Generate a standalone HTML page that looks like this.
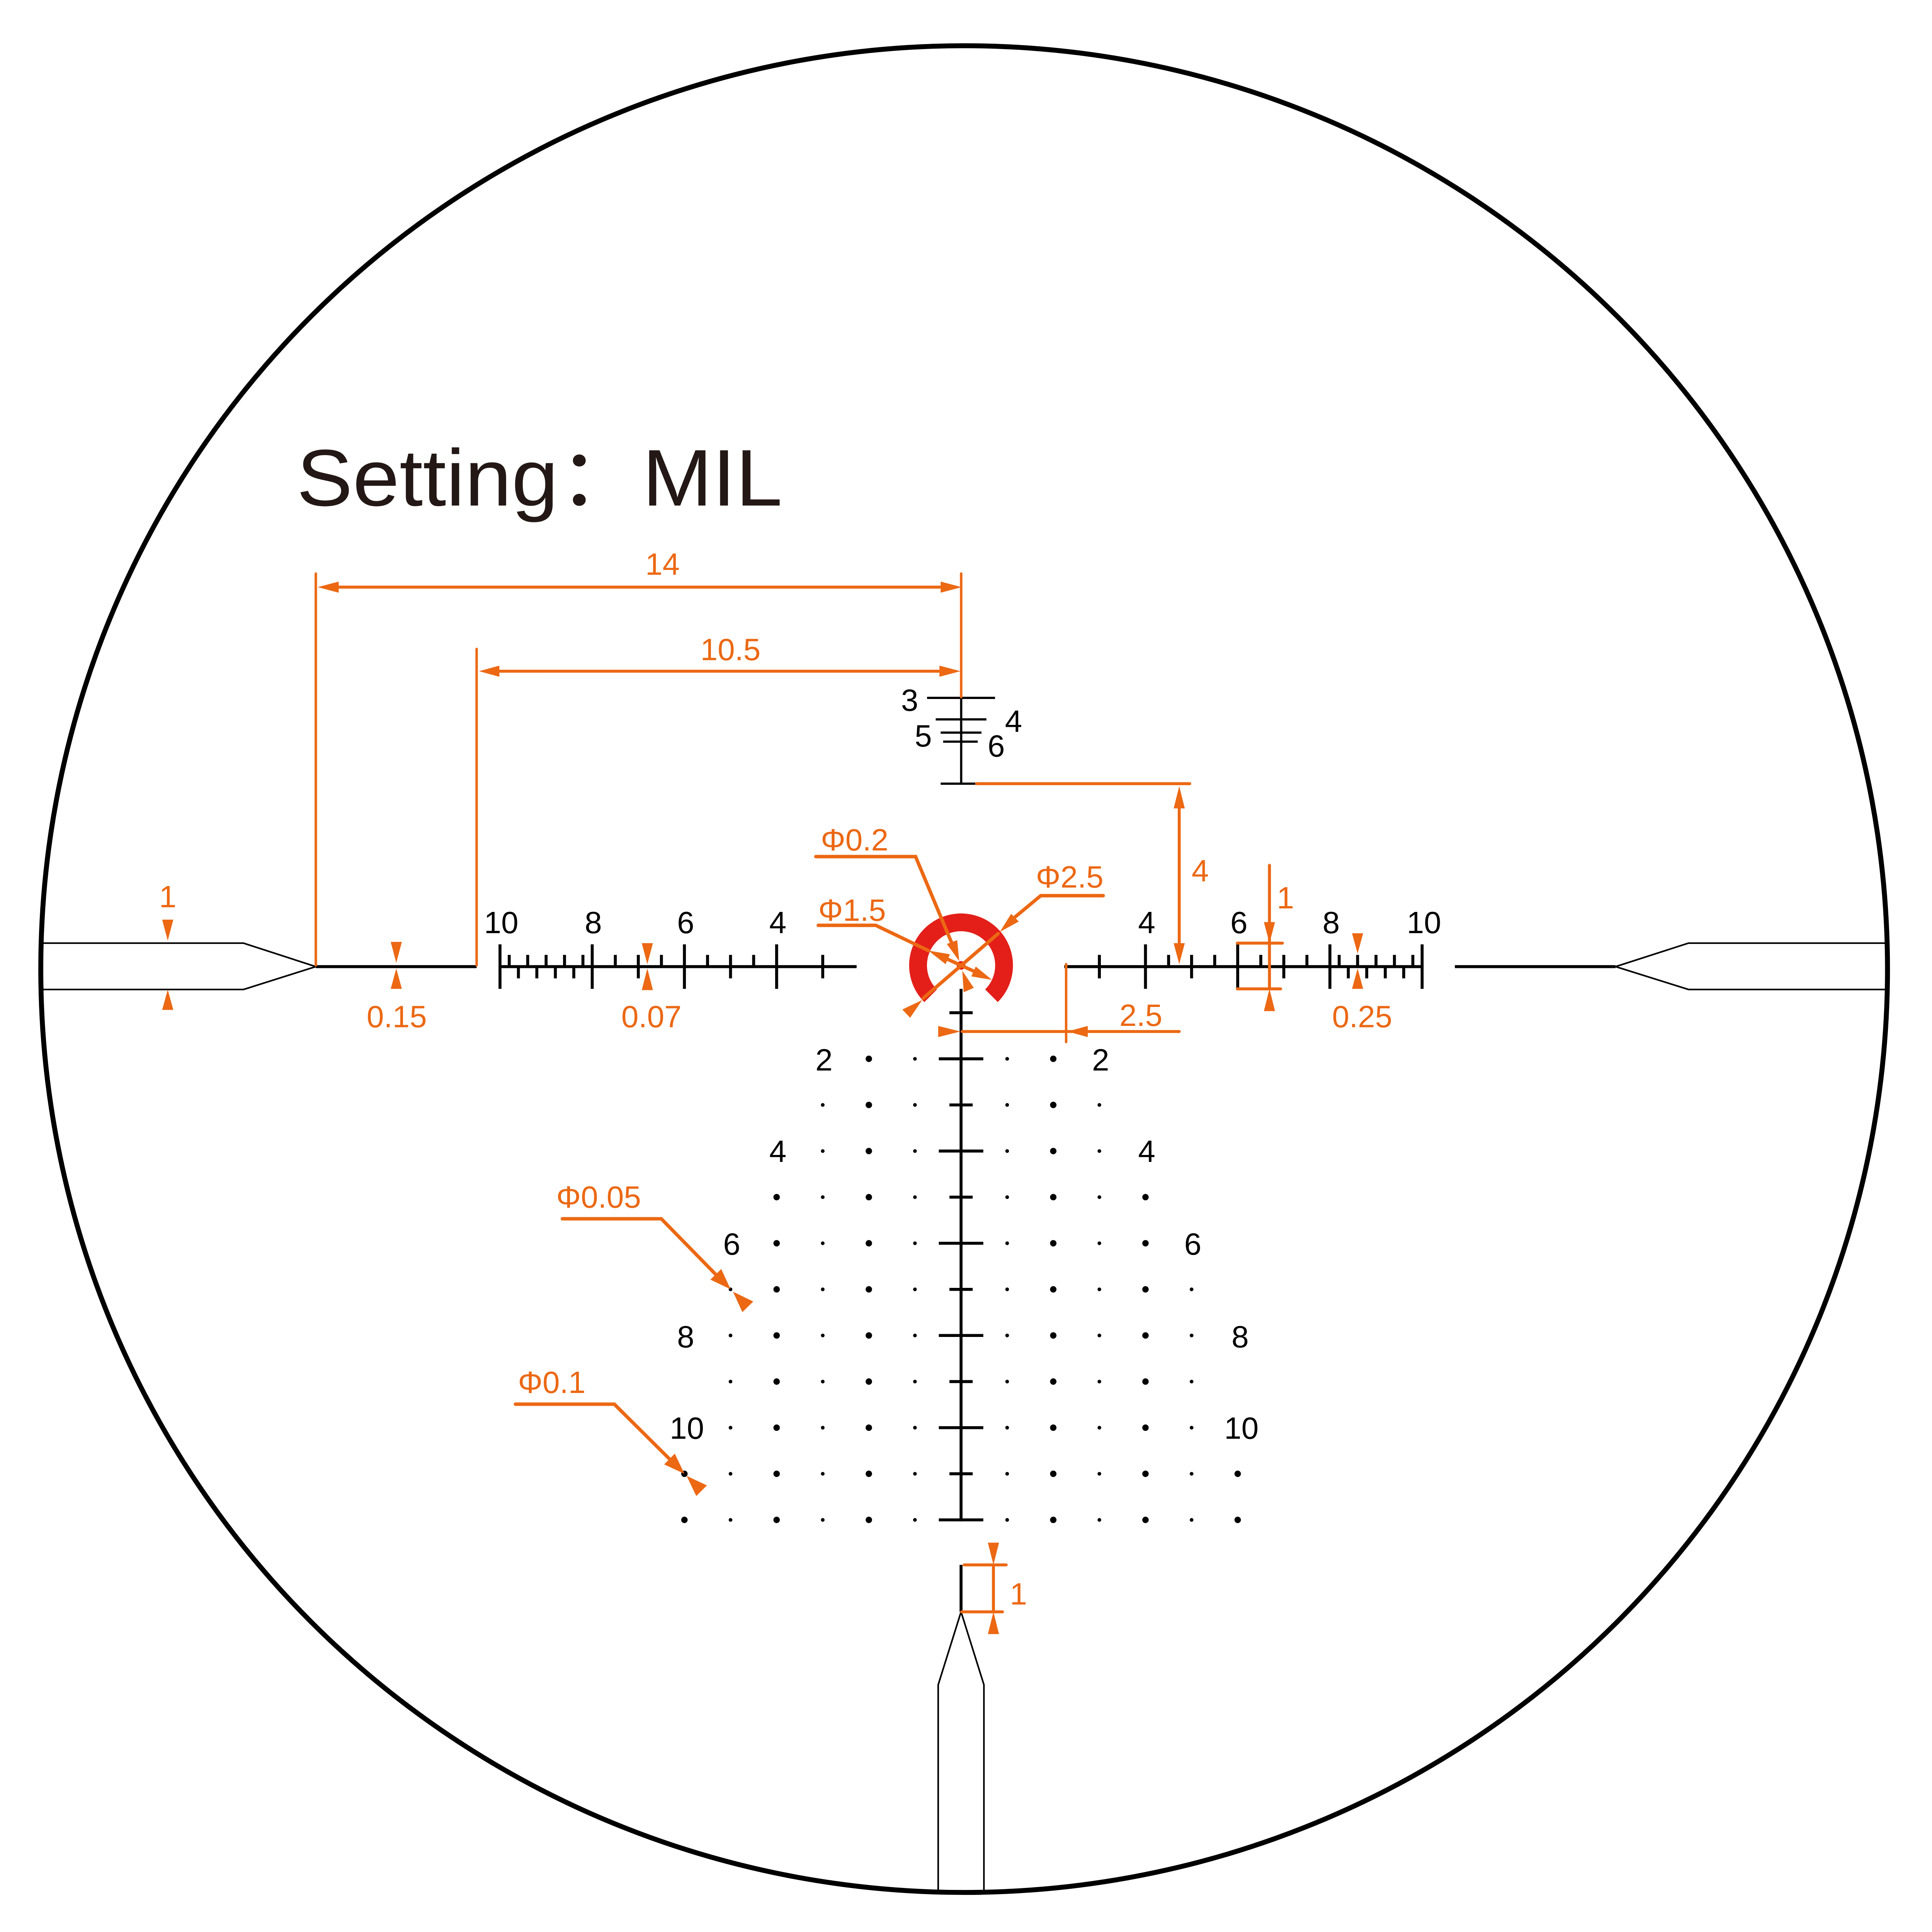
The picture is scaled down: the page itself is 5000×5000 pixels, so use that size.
<!DOCTYPE html>
<html><head><meta charset="utf-8"><style>
html,body{margin:0;padding:0;background:#fff;}
svg{display:block;}
text{font-family:"Liberation Sans","Noto Sans CJK SC",sans-serif;}
</style></head><body>
<svg xmlns="http://www.w3.org/2000/svg" width="5000" height="5000" viewBox="0 0 1563 1563">
<rect width="1563" height="1563" fill="#fff"/>
<circle cx="780" cy="784" r="747" fill="none" stroke="#000" stroke-width="4"/>

<text x="240" y="409" font-size="65" fill="#231815" textLength="393" lengthAdjust="spacingAndGlyphs">Setting：MIL</text>

<!-- posts -->
<g fill="none" stroke="#000" stroke-width="1.3">
<polyline points="34,763 197,763 255.5,782 197,800.5 34,800.5"/>
<polyline points="1526,763 1366,763 1307,782 1366,800.5 1526,800.5"/>
<polyline points="759,1530 759,1363 777.5,1304 796,1363 796,1530"/>
</g>
<g stroke="#000" stroke-width="2.4" fill="none">
<line x1="255.5" y1="782" x2="385.6" y2="782"/>
<line x1="1177" y1="782" x2="1307" y2="782"/>
<line x1="777.5" y1="1266" x2="777.5" y2="1304"/>
<line x1="404.5" y1="782" x2="693" y2="782"/>
<line x1="861" y1="782" x2="1150.5" y2="782"/>
<path d="M404.5,764V800M479.1,764V800M553.7,764V800M628.3,764V800M926.7,764V800M1001.3,764V800M1075.9,764V800M1150.5,764V800"/>
<path d="M516.4,772.5V791.5M591,772.5V791.5M665.6,772.5V791.5M889.4,772.5V791.5M964,772.5V791.5M1038.6,772.5V791.5"/>
<path d="M497.8,772.5V782M535.1,772.5V782M572.4,772.5V782M609.7,772.5V782M945.4,772.5V782M982.7,772.5V782M1020,772.5V782M1057.3,772.5V782M411.96,772.5V782M426.9,772.5V782M441.8,772.5V782M456.7,772.5V782M471.6,772.5V782M1083.4,772.5V782M1098.3,772.5V782M1113.2,772.5V782M1128.1,772.5V782M1143,772.5V782"/>
<path d="M419.4,782V791.5M434.3,782V791.5M449.3,782V791.5M464.2,782V791.5M1090.8,782V791.5M1105.7,782V791.5M1120.7,782V791.5M1135.6,782V791.5"/>
<line x1="777.5" y1="800" x2="777.5" y2="1230.8"/>
<path d="M768.1,819.3H786.9M759.5,856.6H795.5M768.1,893.9H786.9M759.5,931.2H795.5M768.1,968.5H786.9M759.5,1005.8H795.5M768.1,1043.1H786.9M759.5,1080.4H795.5M768.1,1117.7H786.9M759.5,1155H795.5M768.1,1192.3H786.9M759.5,1229.6H795.5"/>
</g>
<g stroke="#000" stroke-width="1.8">
<line x1="777.6" y1="564.6" x2="777.6" y2="634"/>
<line x1="750" y1="564.6" x2="805" y2="564.6"/>
<line x1="757" y1="582" x2="798" y2="582"/>
<line x1="761" y1="592.7" x2="794" y2="592.7"/>
<line x1="763" y1="600" x2="791" y2="600"/>
<line x1="761" y1="634" x2="790" y2="634"/>
</g>
<g font-size="25" fill="#000">
<text x="729" y="575">3</text><text x="813" y="592">4</text>
<text x="740" y="604">5</text><text x="799" y="612">6</text>
<g text-anchor="middle">
<text x="405.5" y="755">10</text><text x="480" y="755">8</text><text x="554.7" y="755">6</text><text x="629.3" y="755">4</text>
<text x="927.7" y="755">4</text><text x="1002.3" y="755">6</text><text x="1076.9" y="755">8</text><text x="1152" y="755">10</text>
<text x="666.6" y="866">2</text><text x="890.4" y="866">2</text>
<text x="629.3" y="940">4</text><text x="927.7" y="940">4</text>
<text x="592" y="1015">6</text><text x="965" y="1015">6</text>
<text x="554.7" y="1090">8</text><text x="1003.3" y="1090">8</text>
<text x="555.7" y="1164">10</text><text x="1004.3" y="1164">10</text>
</g></g>

<g stroke="#000" stroke-linecap="round" stroke-dasharray="0 37.3">
<g stroke-width="3">
<line x1="740.2" y1="856.6" x2="740.2" y2="1231"/><line x1="814.8" y1="856.6" x2="814.8" y2="1231"/>
<line x1="665.6" y1="893.9" x2="665.6" y2="1231"/><line x1="889.4" y1="893.9" x2="889.4" y2="1231"/>
<line x1="591" y1="1043.1" x2="591" y2="1231"/><line x1="964" y1="1043.1" x2="964" y2="1231"/>
</g>
<g stroke-width="5.2">
<line x1="702.9" y1="856.6" x2="702.9" y2="1231"/><line x1="852.1" y1="856.6" x2="852.1" y2="1231"/>
<line x1="628.3" y1="968.5" x2="628.3" y2="1231"/><line x1="926.7" y1="968.5" x2="926.7" y2="1231"/>
<line x1="553.7" y1="1192.3" x2="553.7" y2="1231"/><line x1="1001.3" y1="1192.3" x2="1001.3" y2="1231"/>
</g></g>

<path d="M747.8,810.7 A42,42 0 1 1 807.2,810.7 L797,800.5 A27.6,27.6 0 1 0 758,800.5 Z" fill="#e41f1a"/>
<circle cx="777.5" cy="781" r="3.5" fill="#e41f1a"/>

<g stroke="#ec6813" fill="none" stroke-width="2" stroke-linecap="round">
<line x1="255.5" y1="464" x2="255.5" y2="781"/>
<line x1="385.6" y1="525" x2="385.6" y2="781"/>
<line x1="777.6" y1="464" x2="777.6" y2="564"/>
<g stroke-width="2.4">
<line x1="270" y1="475" x2="765" y2="475"/>
<line x1="400" y1="543" x2="765" y2="543"/>
<line x1="790" y1="634" x2="962.5" y2="634"/>
<line x1="954" y1="650" x2="954" y2="765"/>
<line x1="1027" y1="700" x2="1027" y2="800"/>
<line x1="1001" y1="763" x2="1037.5" y2="763"/>
<line x1="1001" y1="800" x2="1036" y2="800"/>
<line x1="778.4" y1="834.5" x2="954" y2="834.5"/>
<line x1="803.7" y1="1266" x2="803.7" y2="1304"/>
<line x1="780" y1="1266" x2="814" y2="1266"/>
<line x1="778" y1="1304" x2="811" y2="1304"/>
</g>
<line x1="862.5" y1="780" x2="862.5" y2="843"/>
<g stroke-width="2.8">
<polyline points="660,693 740.7,693 770,763"/>
<polyline points="662,748.6 708.5,748.6 751,769"/>
<line x1="760" y1="773" x2="795" y2="789"/>
<polyline points="892.5,724.6 842,724.6 821,742"/>
<line x1="807.5" y1="755.3" x2="747" y2="807.5"/>
<polyline points="455,986 535,986 579,1031"/>
<polyline points="417,1136 497,1136 541.6,1180.3"/>
</g>
</g>
<g fill="#ec6813">
<polygon points="135.7,761 131.2,744 140.2,744"/>
<polygon points="135.7,800.6 131.2,817 140.2,817"/>
<polygon points="320.6,779 316.1,762 325.1,762"/>
<polygon points="320.6,783.5 316.1,800 325.1,800"/>
<polygon points="523.7,780 519.2,763 528.2,763"/>
<polygon points="523.7,783.5 519.2,801 528.2,801"/>
<polygon points="1098.3,771.5 1093.8,755 1102.8,755"/>
<polygon points="1098.3,783.5 1093.8,800 1102.8,800"/>
<polygon points="1027,763 1022.5,746 1031.5,746"/>
<polygon points="1027,800 1022.5,818 1031.5,818"/>
<polygon points="954,636 949.5,654 958.5,654"/>
<polygon points="954,780 949.5,763 958.5,763"/>
<polygon points="777,834.5 759,830 759,839"/>
<polygon points="863.5,834.5 880,830 880,839"/>
<polygon points="257,475 274,470.5 274,479.5"/>
<polygon points="778,475 761,470.5 761,479.5"/>
<polygon points="387.5,543 404,538.5 404,547.5"/>
<polygon points="777,543 760,538.5 760,547.5"/>
<polygon points="803.7,1266 799.2,1248 808.2,1248"/>
<polygon points="803.7,1304 799.2,1322 808.2,1322"/>
<polygon points="776,777.5 766,763.7 774.4,760.6"/>
<polygon points="778.5,785.3 779.6,802.7 787.8,799.2"/>
<polygon points="751,769 768.5,772 765,780"/>
<polygon points="802.5,792.7 789.4,781.9 785.8,789.9"/>
<polygon points="808.9,753.9 818,739.3 824.2,745.5"/>
<polygon points="746.1,809 730,816.7 736.3,823.4"/>
<polygon points="591,1043 583.5,1026.6 574.7,1035.2"/>
<polygon points="593,1045 609.4,1052.9 600.6,1061.5"/>
<polygon points="553.7,1192.3 545.9,1176 537.3,1184.7"/>
<polygon points="555.5,1194 571.9,1201.7 563.3,1210.3"/>
</g>
<g font-size="25" fill="#ec6813">
<text x="536" y="465" text-anchor="middle">14</text>
<text x="591" y="534" text-anchor="middle">10.5</text>
<text x="135.7" y="734" text-anchor="middle">1</text>
<text x="321" y="831" text-anchor="middle">0.15</text>
<text x="527" y="831" text-anchor="middle">0.07</text>
<text x="1102" y="831" text-anchor="middle">0.25</text>
<text x="923" y="830" text-anchor="middle">2.5</text>
<text x="964" y="713">4</text>
<text x="1033" y="735">1</text>
<text x="817" y="1298">1</text>
<text x="664" y="688">Φ0.2</text>
<text x="662" y="745">Φ1.5</text>
<text x="838" y="718">Φ2.5</text>
<text x="450" y="977">Φ0.05</text>
<text x="419" y="1127">Φ0.1</text>
</g>
</svg>
</body></html>
